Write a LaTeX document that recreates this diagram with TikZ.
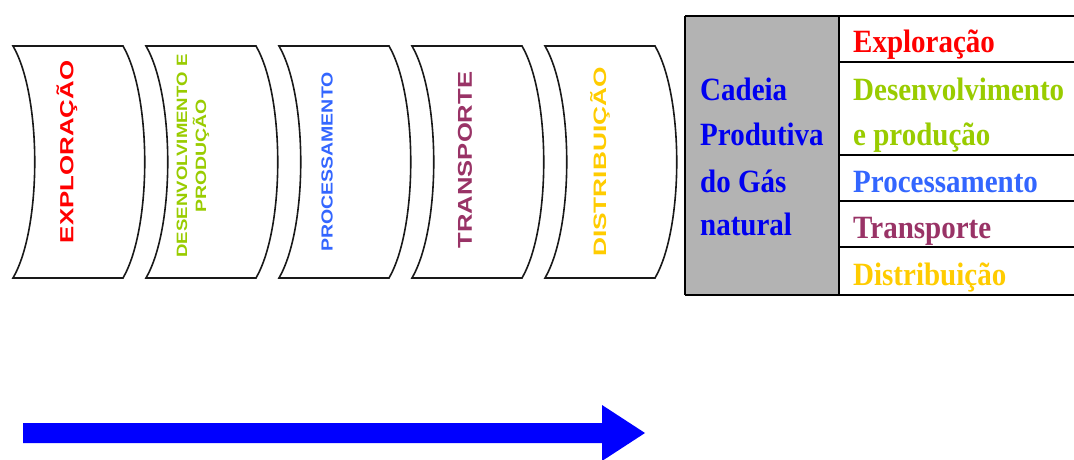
\documentclass[tikz,border=0pt]{standalone}
\usepackage{fontspec}
\setmainfont{Liberation Serif}
\newfontfamily\stagefont{Liberation Sans}

\definecolor{explc}{HTML}{FF0000}
\definecolor{desenc}{HTML}{99CC00}
\definecolor{procc}{HTML}{3366FF}
\definecolor{transc}{HTML}{993366}
\definecolor{distc}{HTML}{FFCC00}
\definecolor{chainc}{HTML}{0000F0}
\definecolor{cellgray}{HTML}{B3B3B3}
\definecolor{flowblue}{HTML}{0000FF}

% one stage of the chain: flat top and bottom, both sides bowed to the right
\newcommand\stagebox[2]{%
  \draw[stageshape] (#1,46) coordinate (#2)
    -- ++(110,0) .. controls +(29,50) and +(29,-50) .. ++(0,232)
    -- ++(-110,0) .. controls +(29,-50) and +(29,50) .. ++(0,-232) -- cycle;}

\begin{document}
\begin{tikzpicture}[x=1pt,y=-1pt,
  stageshape/.style={draw=black!90, line width=1.6pt, fill=white},
  stagelabel/.style={rotate=90, inner sep=0pt, font=\stagefont\bfseries},
  cell/.style={anchor=base west, inner sep=0pt, font=\bfseries\fontsize{29}{29}\selectfont},
  rule/.style={draw=black, line width=1.5pt},
]
\clip (0,0) rectangle (1074,460);
\fill[white] (0,0) rectangle (1074,460);

% the five stages
\stagebox{13}{s1}
\stagebox{146}{s2}
\stagebox{279}{s3}
\stagebox{412}{s4}
\stagebox{545}{s5}

\node[stagelabel, text=explc] (lexpl) at (67,152)
  {\scalebox{1.36}[1]{\fontsize{19}{19}\selectfont EXPLORAÇÃO}};
\node[stagelabel, text=desenc, align=center,
      font=\stagefont\bfseries\fontsize{15}{19}\selectfont] (ldesen) at (193,156)
  {\scalebox{1.24}[1]{DESENVOLVIMENTO E}\\\scalebox{1.3}[1]{PRODUÇÃO}};
\node[stagelabel, text=procc] (lproc) at (327,162)
  {\scalebox{1.22}[1]{\fontsize{16}{16}\selectfont PROCESSAMENTO}};
\node[stagelabel, text=transc] (ltrans) at (465,160)
  {\scalebox{1.28}[1]{\fontsize{20}{20}\selectfont TRANSPORTE}};
\node[stagelabel, text=distc] (ldist) at (600,162)
  {\scalebox{1.46}[1]{\fontsize{18}{18}\selectfont DISTRIBUIÇÃO}};

% summary table
\fill[cellgray] (685,16) rectangle (839,295);
\draw[rule] (685,16) -- (1074,16);
\draw[rule] (685,295) -- (1074,295);
\draw[rule] (685,16) -- (685,295);
\draw[rule] (839,16) -- (839,295);
\foreach \yy in {62,155,201,247}
  \draw[rule] (839,\yy) -- (1074,\yy);

\node[cell, text=chainc] (c1) at (700,100) {\scalebox{1}[1.12]{Cadeia}};
\node[cell, text=chainc] (c2) at (700,145) {\scalebox{1}[1.12]{Produtiva}};
\node[cell, text=chainc] (c3) at (700,192) {\scalebox{1}[1.12]{do Gás}};
\node[cell, text=chainc] (c4) at (700,235) {\scalebox{1}[1.12]{natural}};

\node[cell, text=explc]  (r1) at (853,53)  {\scalebox{1}[1.12]{Exploração}};
\node[cell, text=desenc] (r2) at (853,100) {\scalebox{1}[1.12]{Desenvolvimento}};
\node[cell, text=desenc] (r3) at (853,145) {\scalebox{1}[1.12]{e produção}};
\node[cell, text=procc]  (r4) at (853,192) {\scalebox{1}[1.12]{Processamento}};
\node[cell, text=transc] (r5) at (853,238) {\scalebox{1}[1.12]{Transporte}};
\node[cell, text=distc]  (r6) at (853,285) {\scalebox{1}[1.12]{Distribuição}};

% flow arrow
\coordinate (atail) at (23,423);
\coordinate (ahead) at (645,433);
\fill[flowblue] (atail) -- (602,423) -- (602,405) -- (ahead)
  -- (602,461) -- (602,443) -- (23,443) -- cycle;
\end{tikzpicture}
\end{document}
